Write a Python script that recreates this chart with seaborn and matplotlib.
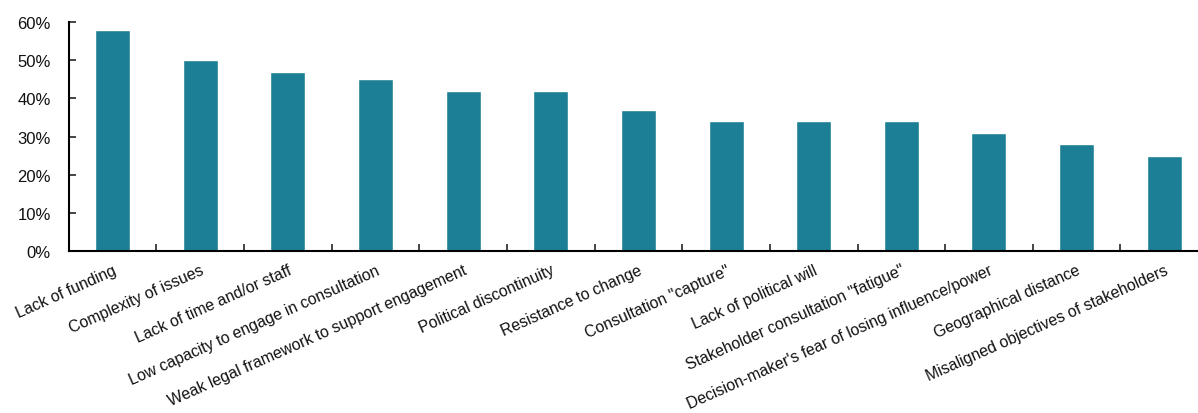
import matplotlib
matplotlib.use("Agg")
import matplotlib.pyplot as plt
import seaborn as sns
import pandas as pd
import numpy as np
from matplotlib.ticker import PercentFormatter, FixedLocator

categories = [
    "Lack of funding",
    "Complexity of issues",
    "Lack of time and/or staff",
    "Low capacity to engage in consultation",
    "Weak legal framework to support engagement",
    "Political discontinuity",
    "Resistance to change",
    'Consultation "capture"',
    "Lack of political will",
    'Stakeholder consultation "fatigue"',
    "Decision-maker's fear of losing influence/power",
    "Geographical distance",
    "Misaligned objectives of stakeholders",
]
values = [58, 50, 47, 45, 42, 42, 37, 34, 34, 34, 31, 28, 25]

sns.set_theme(style="white")
plt.rcParams['font.family'] = ['Liberation Sans', 'DejaVu Sans']

df = pd.DataFrame({"cat": categories, "val": values})

fig = plt.figure(figsize=(11.98, 4.14), dpi=100)
ax = fig.add_axes([0.0574, 0.3913, 0.951, 0.5531])
sns.barplot(data=df, x="cat", y="val", color="#1d7f95", saturation=1, width=0.4, ax=ax)

ax.set_ylim(0, 60)
ax.set_xlim(-0.5, len(categories) - 0.5)
ax.set_yticks(np.arange(0, 61, 10))
ax.yaxis.set_major_formatter(PercentFormatter(decimals=0))
ax.set_xlabel("")
ax.set_ylabel("")

for s in ["top", "right"]:
    ax.spines[s].set_visible(False)
for s in ["left", "bottom"]:
    ax.spines[s].set_color("black")
    ax.spines[s].set_linewidth(1.5)

ax.tick_params(axis="y", direction="in", length=5, width=1.2, labelsize=12, pad=13, left=True,
               labelcolor="#111111")
ax.set_xticks(range(len(categories)))
ax.set_xticklabels(categories, rotation=24, ha="right", rotation_mode="anchor", fontsize=11.4,
                   color="#111111")
ax.tick_params(axis="x", which="major", length=0, pad=8)
ax.xaxis.set_minor_locator(FixedLocator(np.arange(0.5, len(categories) - 1, 1)))
ax.tick_params(axis="x", which="minor", direction="in", length=5, width=1.2, bottom=True)

fig.savefig("out.png", dpi=100)
